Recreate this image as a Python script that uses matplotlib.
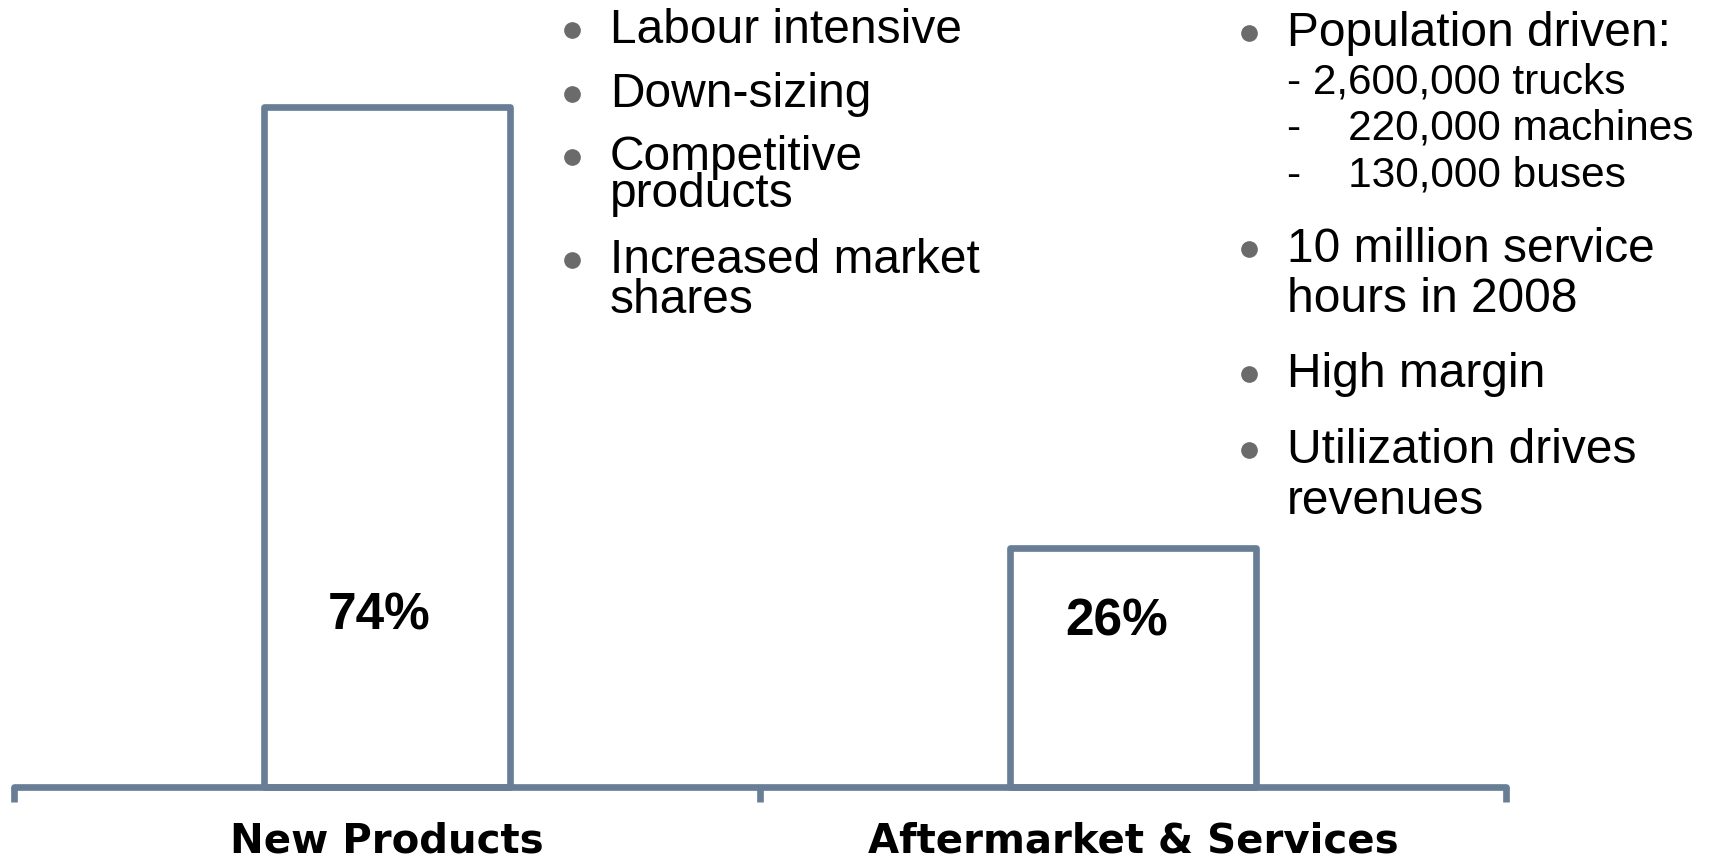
import matplotlib
matplotlib.use("Agg")
import matplotlib.pyplot as plt
from matplotlib.lines import Line2D

# data
categories = ["New Products", "Aftermarket & Services"]
shares = [74, 26]
share_labels = ["74%", "26%"]

left_items = [["Labour intensive"], ["Down-sizing"], ["Competitive", "products"],
              ["Increased market", "shares"]]
right_items = [["Population driven:"], ["10 million service", "hours in 2008"],
               ["High margin"], ["Utilization drives", "revenues"]]
fleet_lines = ["- 2,600,000 trucks", "-    220,000 machines", "-    130,000 buses"]

W, H = 1715, 860
line_col = "#687d96"
bullet_col = "#6b6b6b"

fig = plt.figure(figsize=(W / 100, H / 100), dpi=100)
ax = fig.add_axes([14 / W, (H - 787) / H, 1492 / W, 787 / H])

x = range(len(categories))
ax.bar(x, shares, width=0.33, fill=False, edgecolor=line_col, linewidth=4.8,
       joinstyle="round", clip_on=False)
label_dx = [-0.010, -0.022]
label_y = [18.6, 18.0]
for i, lab in enumerate(share_labels):
    ax.text(i + label_dx[i], label_y[i], lab, ha="center", va="center",
            fontsize=37, fontweight="bold", family="Liberation Sans")

ax.set_xlim(-0.5, 1.5)
ax.set_ylim(0, 85.6)
for s in ["top", "left", "right"]:
    ax.spines[s].set_visible(False)
ax.spines["bottom"].set_color(line_col)
ax.spines["bottom"].set_linewidth(4.8)
ax.spines["bottom"].set_capstyle("round")
ax.set_yticks([])
ax.set_xticks([-0.5, 0.5, 1.5])
ax.set_xticklabels([])
ax.tick_params(axis="x", which="major", direction="out", length=11, width=4.8,
               color=line_col)
ax.set_xticks(list(x), minor=True)
ax.set_xticklabels(categories, minor=True, fontsize=29, fontweight="bold",
                   family="DejaVu Sans")
ax.tick_params(axis="x", which="minor", length=0, pad=24.5)


def fx(px):
    return px / W


def fy(py):
    return 1 - py / H


def bullet(px, py):
    fig.add_artist(Line2D([fx(px)], [fy(py)], marker="o", markersize=11,
                          color=bullet_col, transform=fig.transFigure))


# left column text
left_base = [[43, None], [107, None], [170, 207], [273, 313]]
for item, bases in zip(left_items, left_base):
    bullet(572, bases[0] - 13)
    for line, b in zip(item, bases):
        fig.text(fx(610), fy(b), line, va="baseline", ha="left", fontsize=34.5,
                 family="Liberation Sans")

# right column text
right_base = [[46, None], [262, 312], [387, None], [463, 514]]
for item, bases in zip(right_items, right_base):
    bullet(1249, bases[0] - 13)
    for line, b in zip(item, bases):
        fig.text(fx(1287), fy(b), line, va="baseline", ha="left", fontsize=34.5,
                 family="Liberation Sans")

fleet_base = [93.5, 139.5, 186]
for line, b in zip(fleet_lines, fleet_base):
    fig.text(fx(1287), fy(b), line, va="baseline", ha="left", fontsize=30.5,
             family="Liberation Sans")

fig.savefig("out.png", dpi=100)
